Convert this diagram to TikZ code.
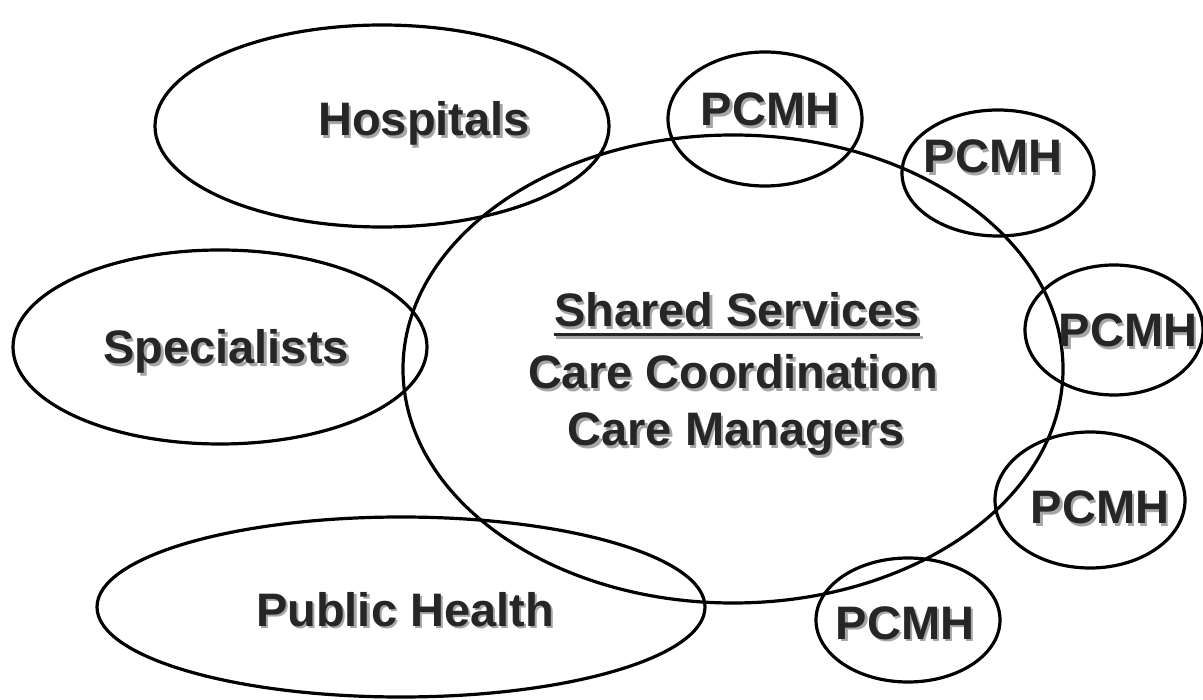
\documentclass[tikz,border=0pt]{standalone}
\usepackage{fontspec}
\setmainfont{Liberation Sans}
\definecolor{txtgray}{HTML}{262626}
\definecolor{shdgray}{HTML}{A6A6A6}
\newcommand{\shtxt}[1]{\rlap{\kern2.5pt\raisebox{-2.5pt}{\color{shdgray}#1}}#1}
\begin{document}
\begin{tikzpicture}[x=1pt,y=-1pt]
    \useasboundingbox (0,0) rectangle (1203,700);

    \tikzstyle{ring}=[draw=black, line width=3.2pt]
    \tikzstyle{lbl}=[anchor=base, inner sep=0pt, text=txtgray,
                     font=\fontsize{47}{56}\bfseries\selectfont]

    % outer groups
    \draw[ring] (382,126) ellipse [x radius=227, y radius=101];
    \draw[ring] (220,347) ellipse [x radius=207, y radius=97];
    \draw[ring] (401,607) ellipse [x radius=304, y radius=90];
    % shared services
    \draw[ring] (733,369) ellipse [x radius=330, y radius=234];
    % medical homes
    \draw[ring] (765,119) ellipse [x radius=97, y radius=67];
    \draw[ring] (998,173) ellipse [x radius=96, y radius=63];
    \draw[ring] (1114,330) ellipse [x radius=89, y radius=65];
    \draw[ring] (1090,500) ellipse [x radius=95, y radius=68];
    \draw[ring] (908,620) ellipse [x radius=92, y radius=62];

    \node[lbl] (hosp) at (424,136) {\shtxt{Hospitals}};
    \node[lbl] (spec) at (226,364) {\shtxt{Specialists}};
    \node[lbl] (pub)  at (405,626) {\shtxt{Public Health}};

    \node[lbl] (shared) at (737,327) {\shtxt{Shared Services}};
    \node[lbl] (coord)  at (733,389) {\shtxt{Care Coordination}};
    \node[lbl] (mgr)    at (736,446) {\shtxt{Care Managers}};
    \draw[shdgray, line width=3pt] ([xshift=2.5pt,yshift=-10.5pt]shared.base west) -- ([xshift=2.5pt,yshift=-10.5pt]shared.base east);
    \draw[txtgray, line width=3pt] ([yshift=-8pt]shared.base west) -- ([yshift=-8pt]shared.base east);

    \node[lbl] (home1) at (770,126)  {\shtxt{PCMH}};
    \node[lbl] (home2) at (993,173)  {\shtxt{PCMH}};
    \node[lbl] (home3) at (1128,347) {\shtxt{PCMH}};
    \node[lbl] (home4) at (1100,524) {\shtxt{PCMH}};
    \node[lbl] (home5) at (905,639)  {\shtxt{PCMH}};
\end{tikzpicture}
\end{document}
